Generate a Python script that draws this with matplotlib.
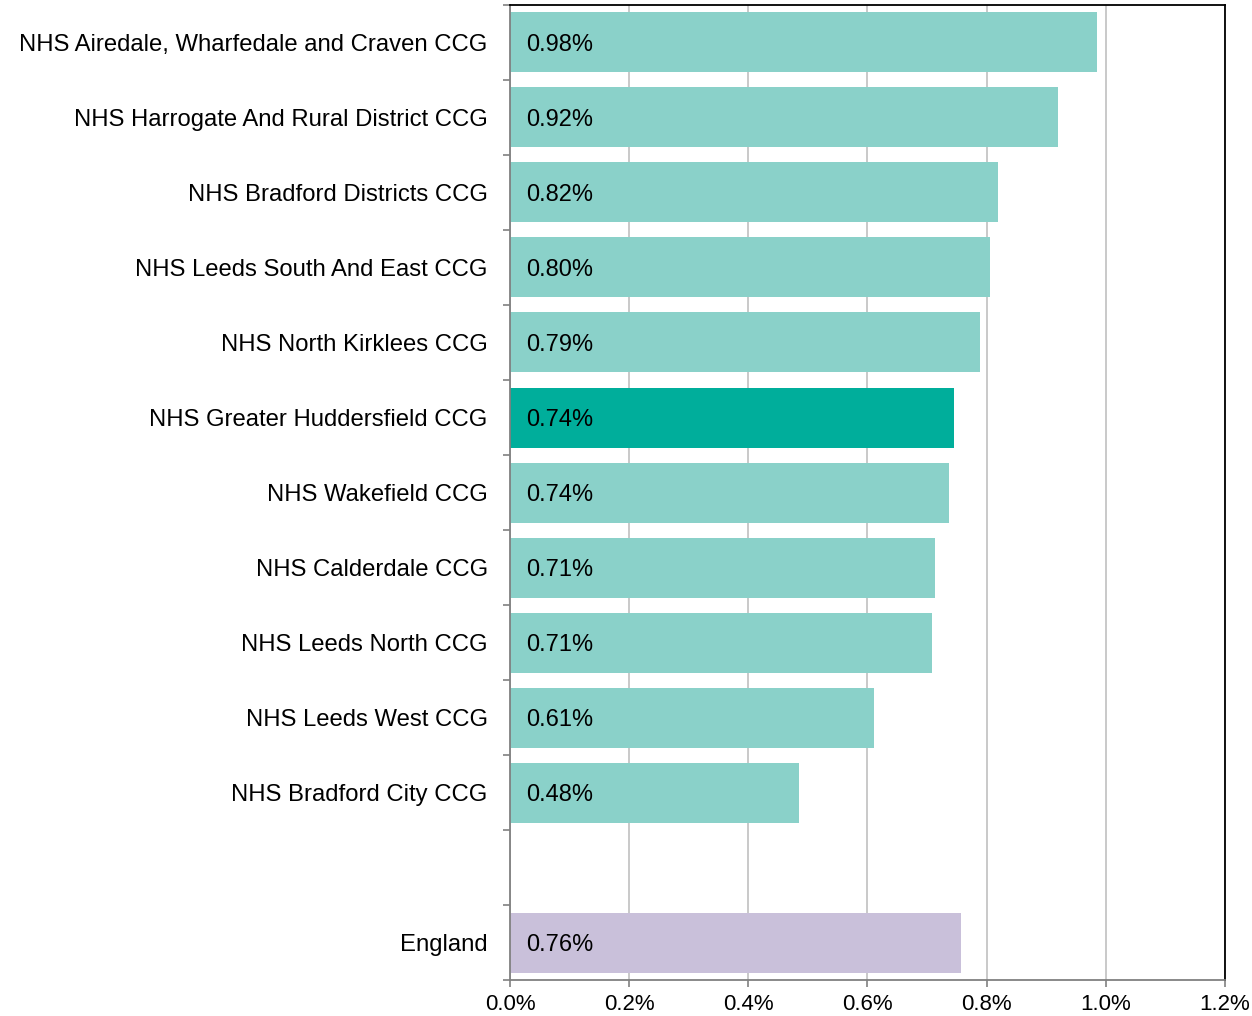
import matplotlib.pyplot as plt
from matplotlib.ticker import FixedLocator, PercentFormatter

plt.rcParams['font.family'] = ['Liberation Sans', 'DejaVu Sans']

areas = ['NHS Airedale, Wharfedale and Craven CCG', 'NHS Harrogate And Rural District CCG',
         'NHS Bradford Districts CCG', 'NHS Leeds South And East CCG', 'NHS North Kirklees CCG',
         'NHS Greater Huddersfield CCG', 'NHS Wakefield CCG', 'NHS Calderdale CCG',
         'NHS Leeds North CCG', 'NHS Leeds West CCG', 'NHS Bradford City CCG', '', 'England']
values = [0.985, 0.920, 0.819, 0.806, 0.789, 0.745, 0.737, 0.713, 0.708, 0.611, 0.485, None, 0.757]
labels = ['0.98%', '0.92%', '0.82%', '0.80%', '0.79%', '0.74%', '0.74%', '0.71%',
          '0.71%', '0.61%', '0.48%', '', '0.76%']

light = '#8AD1C9'
highlight = '#00AE9B'
england = '#C9C0DA'

fig = plt.figure(figsize=(12.52, 10.16), dpi=100)
ax = fig.add_axes([0.4073, 0.0354, 0.5711, 0.9597])

for i, (name, v, lab) in enumerate(zip(areas, values, labels)):
    if v is None:
        continue
    if name == 'England':
        c = england
    elif name == 'NHS Greater Huddersfield CCG':
        c = highlight
    else:
        c = light
    ax.barh(i, v, height=0.8, color=c, zorder=2)
    ax.annotate(lab, (0, i), xytext=(11.5, -2), textcoords='offset points',
                va='center', ha='left', fontsize=17, color='black', zorder=3)

ax.set_xlim(0, 1.2)
ax.set_ylim(len(areas) - 0.5, -0.5)
ax.set_xticks([0, 0.2, 0.4, 0.6, 0.8, 1.0, 1.2])
ax.xaxis.set_major_formatter(PercentFormatter(xmax=100, decimals=1))
ax.grid(axis='x', color='#C0C0C0', linewidth=1.2, zorder=0)

ax.set_yticks(range(len(areas)))
ax.set_yticklabels(areas)
ax.yaxis.set_minor_locator(FixedLocator([i - 0.5 for i in range(len(areas) + 1)]))
ax.tick_params(axis='y', which='major', length=0, pad=16, labelsize=17.2)
ax.tick_params(axis='y', which='minor', length=5, color='#808080', width=1.2)
ax.tick_params(axis='x', length=5, color='#808080', width=1.2, labelsize=16, pad=5)

ax.spines['left'].set_color('#808080')
ax.spines['bottom'].set_color('#808080')
ax.spines['top'].set_color('black')
ax.spines['right'].set_color('black')
for s in ax.spines.values():
    s.set_linewidth(1.3)

fig.savefig('out.png', dpi=100)
